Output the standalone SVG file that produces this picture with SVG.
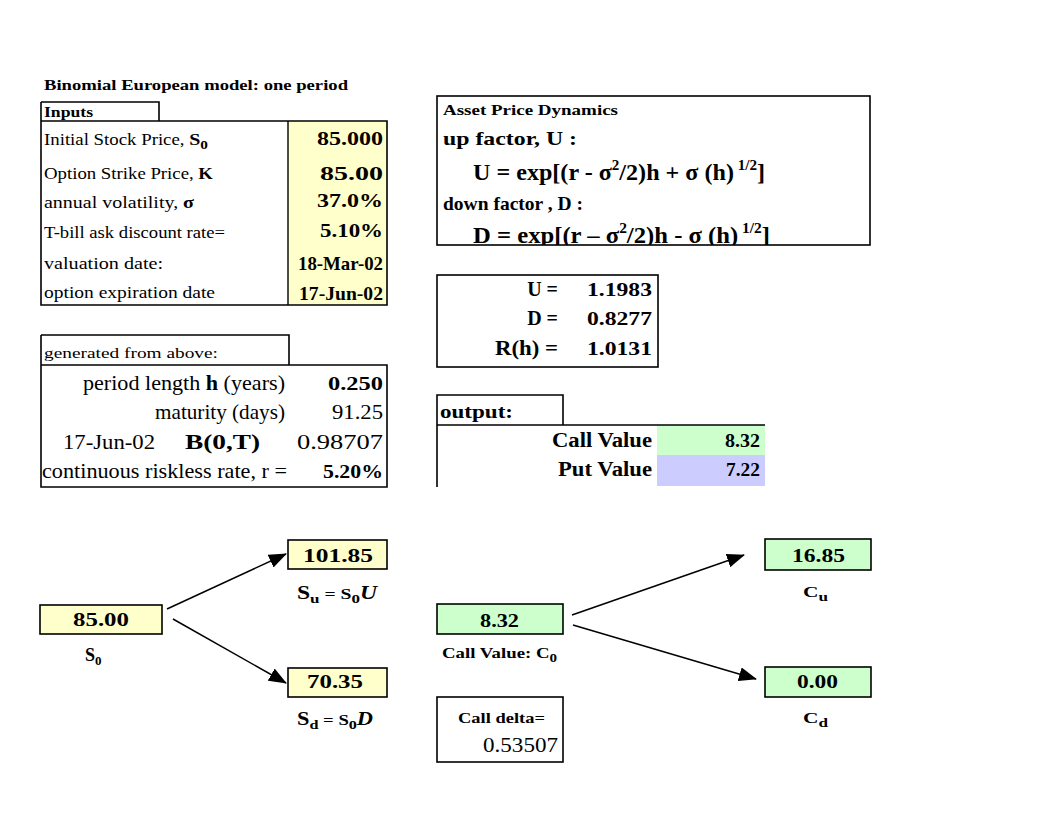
<svg xmlns="http://www.w3.org/2000/svg" width="1056" height="816" viewBox="0 0 1056 816">
<style>
text{font-family:"Liberation Serif","Times New Roman",serif;fill:#000}
.b{font-weight:bold}
.lab{font-size:16px}
.val{font-size:19px;font-weight:bold;text-anchor:end}
.frame{fill:none;stroke:#000;stroke-width:1.6}
.y{fill:#FFFFCC}
.g{fill:#CCFFCC}
.p{fill:#CCCCFF}
.node{stroke:#000;stroke-width:1.6}
.conn{stroke:#000;stroke-width:1.5;fill:none}
.c{text-anchor:middle}
.e{text-anchor:end}
</style>
<defs>
<marker id="ah" markerUnits="userSpaceOnUse" markerWidth="18" markerHeight="14" refX="17" refY="7" orient="auto">
<path d="M0,0 L18,7 L0,14 z" fill="#000"/>
</marker>
<clipPath id="dynclip"><rect x="437" y="96" width="433" height="149"/></clipPath>
</defs>
<rect width="1056" height="816" fill="#fff"/>

<text x="44" y="90" class="b" font-size="15" textLength="304" lengthAdjust="spacingAndGlyphs">Binomial European model:  one period</text>

<g id="inputs">
<rect x="288" y="121" width="99" height="184" class="y"/>
<path d="M41,102 H159 V121" class="frame"/>
<path d="M41,102 V305 H387 V121 H41" class="frame"/>
<line x1="288" y1="121" x2="288" y2="305" stroke="#000" stroke-width="1.4"/>
<text x="44" y="117" class="b" font-size="15" textLength="49" lengthAdjust="spacingAndGlyphs">Inputs</text>
<text x="44" y="145" class="lab" textLength="164" lengthAdjust="spacingAndGlyphs">Initial Stock Price, <tspan class="b" font-size="17">S</tspan><tspan class="b" font-size="13" dy="4">0</tspan></text>
<text x="44" y="179" class="lab" textLength="169" lengthAdjust="spacingAndGlyphs">Option Strike Price, <tspan class="b">K</tspan></text>
<text x="44" y="208" class="lab" textLength="150" lengthAdjust="spacingAndGlyphs">annual volatility,  <tspan class="b">σ</tspan></text>
<text x="44" y="238" class="lab" textLength="181" lengthAdjust="spacingAndGlyphs">T-bill ask discount rate=</text>
<text x="44" y="269" class="lab" textLength="119" lengthAdjust="spacingAndGlyphs">valuation date:</text>
<text x="44" y="298" class="lab" textLength="171" lengthAdjust="spacingAndGlyphs">option expiration date</text>
<text x="383" y="145" class="val" textLength="66" lengthAdjust="spacingAndGlyphs">85.000</text>
<text x="383" y="180" class="val" textLength="63" lengthAdjust="spacingAndGlyphs">85.00</text>
<text x="383" y="207" class="val" textLength="66" lengthAdjust="spacingAndGlyphs">37.0%</text>
<text x="383" y="237" class="val" textLength="63" lengthAdjust="spacingAndGlyphs">5.10%</text>
<text x="383" y="270" class="val" font-size="14" textLength="85" lengthAdjust="spacingAndGlyphs">18-Mar-02</text>
<text x="383" y="300" class="val" font-size="14" textLength="84" lengthAdjust="spacingAndGlyphs">17-Jun-02</text>
</g>

<g id="dynamics">
<g clip-path="url(#dynclip)">
<text x="443" y="115" class="b" font-size="15" textLength="175" lengthAdjust="spacingAndGlyphs">Asset Price Dynamics</text>
<text x="443" y="145" class="b" font-size="19" textLength="134" lengthAdjust="spacingAndGlyphs">up  factor, U  :</text>
<text x="473" y="180" class="b" font-size="24" textLength="292" lengthAdjust="spacingAndGlyphs">U = exp[(r - σ<tspan font-size="15" dy="-10">2</tspan><tspan dy="10">/2)h + σ  (h)</tspan><tspan font-size="15" dy="-10"> 1/2</tspan><tspan dy="10">]</tspan></text>
<text x="443" y="210" class="b" font-size="19" textLength="140" lengthAdjust="spacingAndGlyphs">down factor , D  :</text>
<text x="473" y="243" class="b" font-size="24" textLength="297" lengthAdjust="spacingAndGlyphs">D = exp[(r – σ<tspan font-size="15" dy="-10">2</tspan><tspan dy="10">/2)h - σ  (h)</tspan><tspan font-size="15" dy="-10"> 1/2</tspan><tspan dy="10">]</tspan></text>
</g>
<rect x="437" y="96" width="433" height="149" class="frame"/>
</g>

<g id="generated">
<path d="M41,335 H289 V365" class="frame"/>
<path d="M41,335 V487 H387 V365 H41" class="frame"/>
<text x="44" y="358" font-size="15" textLength="174" lengthAdjust="spacingAndGlyphs">generated from above:</text>
<text x="285" y="390" class="e" font-size="21" textLength="202" lengthAdjust="spacingAndGlyphs">period length <tspan class="b">h</tspan>  (years)</text>
<text x="383" y="390" class="val" textLength="55" lengthAdjust="spacingAndGlyphs">0.250</text>
<text x="285" y="419" class="e" font-size="21" textLength="130" lengthAdjust="spacingAndGlyphs">maturity (days)</text>
<text x="383" y="419" class="e" font-size="20" textLength="51" lengthAdjust="spacingAndGlyphs">91.25</text>
<text x="63" y="449" font-size="21" textLength="92" lengthAdjust="spacingAndGlyphs">17-Jun-02</text>
<text x="185" y="449" class="b" font-size="21" textLength="75" lengthAdjust="spacingAndGlyphs">B(0,T)</text>
<text x="383" y="449" class="e" font-size="20" textLength="86" lengthAdjust="spacingAndGlyphs">0.98707</text>
<text x="42" y="478" font-size="21" textLength="245" lengthAdjust="spacingAndGlyphs">continuous riskless rate, r =</text>
<text x="383" y="478" class="val" textLength="60" lengthAdjust="spacingAndGlyphs">5.20%</text>
</g>

<g id="factors">
<rect x="437" y="275" width="221" height="92" class="frame"/>
<text x="558" y="296" class="e b" font-size="20">U =</text>
<text x="652" y="296" class="val" textLength="65" lengthAdjust="spacingAndGlyphs">1.1983</text>
<text x="558" y="325" class="e b" font-size="20">D =</text>
<text x="652" y="325" class="val" textLength="65" lengthAdjust="spacingAndGlyphs">0.8277</text>
<text x="558" y="355" class="e b" font-size="20" textLength="63" lengthAdjust="spacingAndGlyphs">R(h) =</text>
<text x="652" y="355" class="val" textLength="65" lengthAdjust="spacingAndGlyphs">1.0131</text>
</g>

<g id="output">
<rect x="657" y="425" width="108" height="30" class="g"/>
<rect x="657" y="455" width="108" height="31" class="p"/>
<path d="M437,487 V395 H563 V425" class="frame"/>
<path d="M437,425 H765" class="frame"/>
<text x="440" y="418" class="b" font-size="19" textLength="73" lengthAdjust="spacingAndGlyphs">output:</text>
<text x="652" y="447" class="e b" font-size="20" textLength="100" lengthAdjust="spacingAndGlyphs">Call Value</text>
<text x="760" y="447" class="val" textLength="35" lengthAdjust="spacingAndGlyphs">8.32</text>
<text x="652" y="476" class="e b" font-size="20" textLength="94" lengthAdjust="spacingAndGlyphs">Put Value</text>
<text x="760" y="476" class="val" textLength="34" lengthAdjust="spacingAndGlyphs">7.22</text>
</g>

<g id="s0">
<rect x="40" y="605" width="122" height="29" class="y node"/>
<text x="73" y="626" class="b" font-size="19" textLength="56" lengthAdjust="spacingAndGlyphs">85.00</text>
<text x="85" y="661" class="b" font-size="18">S<tspan font-size="13" dy="4">0</tspan></text>
</g>
<g id="su">
<rect x="288" y="540" width="99" height="29" class="y node"/>
<text x="303" y="562" class="b" font-size="19" textLength="70" lengthAdjust="spacingAndGlyphs">101.85</text>
<text x="297" y="599" class="b" font-size="18" textLength="80" lengthAdjust="spacingAndGlyphs">S<tspan font-size="13" dy="4">u</tspan><tspan dy="-4" font-size="15"> = S</tspan><tspan font-size="13" dy="4">0</tspan><tspan dy="-4" font-style="italic">U</tspan></text>
</g>
<g id="sd">
<rect x="288" y="668" width="99" height="29" class="y node"/>
<text x="307" y="688" class="b" font-size="19" textLength="56" lengthAdjust="spacingAndGlyphs">70.35</text>
<text x="297" y="725" class="b" font-size="18" textLength="76" lengthAdjust="spacingAndGlyphs">S<tspan font-size="13" dy="4">d</tspan><tspan dy="-4" font-size="15"> = S</tspan><tspan font-size="13" dy="4">0</tspan><tspan dy="-4" font-style="italic">D</tspan></text>
</g>
<g id="c0">
<rect x="437" y="604" width="126" height="30" class="g node"/>
<text x="480" y="627" class="b" font-size="19" textLength="39" lengthAdjust="spacingAndGlyphs">8.32</text>
<text x="442" y="658" class="b" font-size="15" textLength="115" lengthAdjust="spacingAndGlyphs">Call Value:  C<tspan font-size="12" dy="4">0</tspan></text>
</g>
<g id="cu">
<rect x="765" y="539" width="106" height="31" class="g node"/>
<text x="792" y="562" class="b" font-size="19" textLength="53" lengthAdjust="spacingAndGlyphs">16.85</text>
<text x="803" y="597" class="b" font-size="15" textLength="25" lengthAdjust="spacingAndGlyphs">C<tspan font-size="12" dy="4">u</tspan></text>
</g>
<g id="cd">
<rect x="765" y="667" width="106" height="30" class="g node"/>
<text x="797" y="688" class="b" font-size="19" textLength="41" lengthAdjust="spacingAndGlyphs">0.00</text>
<text x="803" y="723" class="b" font-size="15" textLength="25" lengthAdjust="spacingAndGlyphs">C<tspan font-size="12" dy="4">d</tspan></text>
</g>
<g id="delta">
<rect x="437" y="697" width="126" height="65" class="frame"/>
<text x="458" y="723" class="b" font-size="15" textLength="87" lengthAdjust="spacingAndGlyphs">Call delta=</text>
<text x="558" y="752" class="e" font-size="20" textLength="75" lengthAdjust="spacingAndGlyphs">0.53507</text>
</g>

<g id="connectors">
<line x1="167" y1="609" x2="286" y2="554" class="conn" marker-end="url(#ah)"/>
<line x1="173" y1="619" x2="286" y2="683" class="conn" marker-end="url(#ah)"/>
<line x1="572" y1="615" x2="744" y2="555" class="conn" marker-end="url(#ah)"/>
<line x1="573" y1="625" x2="756" y2="679" class="conn" marker-end="url(#ah)"/>
</g>
</svg>
